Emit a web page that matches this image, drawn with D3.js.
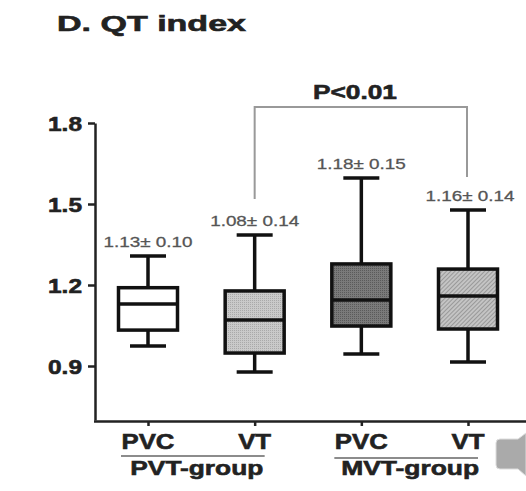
<!DOCTYPE html>
<html>
<head>
<meta charset="utf-8">
<script src="https://cdn.jsdelivr.net/npm/d3@7"></script>
<style>
  body { margin: 0; background: #fff; }
  svg { display: block; font-family: "Liberation Sans", Arial, sans-serif; }
</style>
</head>
<body>
<div id="chart"></div>
<script>
// categories (PVT-group PVC, VT ; MVT-group PVC, VT)
var categories = ["PVT-PVC", "PVT-VT", "MVT-PVC", "MVT-VT"];
var catLabels = ["PVC", "VT", "PVC", "VT"];
var groups = ["PVT-group", "MVT-group"];

// box stats
var whiskerLow  = [0.974, 0.878, 0.944, 0.915];
var q1          = [1.033, 0.948, 1.048, 1.037];
var medians     = [1.130, 1.070, 1.144, 1.159];
var q3          = [1.190, 1.178, 1.278, 1.259];
var whiskerHigh = [1.307, 1.385, 1.596, 1.478];

var meanSd = ["1.13\u00b1 0.10", "1.08\u00b1 0.14", "1.18\u00b1 0.15", "1.16\u00b1 0.14"];
var yTicks = [0.9, 1.2, 1.5, 1.8];

var width = 526, height = 491;

var svg = d3.select("#chart").append("svg")
  .attr("width", width)
  .attr("height", height);

var defs = svg.append("defs");

// dotted texture for the light grey box
var p1 = defs.append("pattern").attr("id", "dotLight")
  .attr("width", 2).attr("height", 2).attr("patternUnits", "userSpaceOnUse");
p1.append("rect").attr("width", 2).attr("height", 2).attr("fill", "#c9c9c9");
p1.append("rect").attr("width", 1).attr("height", 1).attr("fill", "#a9a9a9");

// dotted texture for the dark grey box
var p2 = defs.append("pattern").attr("id", "dotDark")
  .attr("width", 2).attr("height", 2).attr("patternUnits", "userSpaceOnUse");
p2.append("rect").attr("width", 2).attr("height", 2).attr("fill", "#7a7a7a");
p2.append("rect").attr("width", 1).attr("height", 1).attr("fill", "#5a5a5a");

// diagonal hatch for the last box
var p3 = defs.append("pattern").attr("id", "hatch")
  .attr("width", 3).attr("height", 3).attr("patternUnits", "userSpaceOnUse")
  .attr("patternTransform", "rotate(45)");
p3.append("rect").attr("width", 3).attr("height", 3).attr("fill", "#c4c4c4");
p3.append("rect").attr("width", 1).attr("height", 3).attr("fill", "#999");

var fills = ["#fff", "url(#dotLight)", "url(#dotDark)", "url(#hatch)"];

var y = d3.scaleLinear().domain([0.7, 1.8]).range([420, 123]);
var x = d3.scalePoint().domain(categories).range([148, 468]);

var boxW = 59, capW = 36;

// heavier bold text like the scanned figure
function heavy(sel) {
  sel.attr("font-weight", "bold").attr("fill", "#222")
    .attr("stroke", "#222").attr("stroke-width", 0.6);
}

// title
svg.append("text")
  .attr("x", 57).attr("y", 31)
  .attr("font-size", 22)
  .attr("textLength", 189).attr("lengthAdjust", "spacingAndGlyphs")
  .call(heavy)
  .text("D. QT index");

// y axis
var yAxis = d3.axisLeft(y)
  .tickValues(yTicks)
  .tickFormat(d3.format(".1f"))
  .tickSize(7)
  .tickSizeOuter(0);

var gy = svg.append("g")
  .attr("transform", "translate(95,0)")
  .call(yAxis);
gy.select(".domain").attr("stroke", "#222").attr("stroke-width", 2.5);
gy.selectAll(".tick line").attr("stroke", "#222").attr("stroke-width", 2.5);
gy.selectAll(".tick text")
  .attr("x", -13).attr("dy", "0.36em")
  .attr("font-size", 21)
  .attr("textLength", 34).attr("lengthAdjust", "spacingAndGlyphs")
  .attr("font-family", "Liberation Sans, Arial, sans-serif")
  .call(heavy);

// x axis
var xAxis = d3.axisBottom(x).tickSize(5).tickSizeOuter(0).tickFormat("");
var gx = svg.append("g")
  .attr("transform", "translate(0,421)")
  .call(xAxis);
gx.select(".domain").attr("d", "M94,0.5H526").attr("stroke", "#222").attr("stroke-width", 2.5);
gx.selectAll(".tick line").attr("stroke", "#222").attr("stroke-width", 2.5);

// category labels
svg.selectAll(".catLabel")
  .data(categories)
  .enter().append("text")
  .attr("class", "catLabel")
  .attr("x", d => x(d))
  .attr("y", 449)
  .attr("text-anchor", "middle")
  .attr("font-size", 22)
  .attr("textLength", (d, i) => catLabels[i] == "VT" ? 33 : 53)
  .attr("lengthAdjust", "spacingAndGlyphs")
  .call(heavy)
  .text((d, i) => catLabels[i]);

// group underline + labels
var groupSpan = [[categories[0], categories[1]], [categories[2], categories[3]]];
groupSpan.forEach(function(g, i) {
  var x0 = x(g[0]) - 27, x1 = x(g[1]) + 10;
  svg.append("line")
    .attr("x1", x0).attr("x2", x1)
    .attr("y1", 456 + i * 2).attr("y2", 456 + i * 2)
    .attr("stroke", "#666").attr("stroke-width", 1.5);
  svg.append("text")
    .attr("x", (x0 + x1) / 2 + 4)
    .attr("y", 475)
    .attr("text-anchor", "middle")
    .attr("font-size", 21)
    .attr("textLength", i == 0 ? 133 : 138)
    .attr("lengthAdjust", "spacingAndGlyphs")
    .call(heavy)
    .text(groups[i]);
});

// boxes
var boxes = svg.selectAll(".box")
  .data(categories)
  .enter().append("g")
  .attr("class", "box");

// whiskers
boxes.append("line")
  .attr("x1", d => x(d)).attr("x2", d => x(d))
  .attr("y1", (d, i) => y(whiskerHigh[i]))
  .attr("y2", (d, i) => y(whiskerLow[i]))
  .attr("stroke", "#111").attr("stroke-width", 3.5);

boxes.append("line")
  .attr("x1", d => x(d) - capW / 2).attr("x2", d => x(d) + capW / 2)
  .attr("y1", (d, i) => y(whiskerHigh[i]))
  .attr("y2", (d, i) => y(whiskerHigh[i]))
  .attr("stroke", "#111").attr("stroke-width", 3.5);

boxes.append("line")
  .attr("x1", d => x(d) - capW / 2).attr("x2", d => x(d) + capW / 2)
  .attr("y1", (d, i) => y(whiskerLow[i]))
  .attr("y2", (d, i) => y(whiskerLow[i]))
  .attr("stroke", "#111").attr("stroke-width", 3.5);

boxes.append("rect")
  .attr("x", d => x(d) - boxW / 2)
  .attr("width", boxW)
  .attr("y", (d, i) => y(q3[i]))
  .attr("height", (d, i) => y(q1[i]) - y(q3[i]))
  .attr("fill", (d, i) => fills[i])
  .attr("stroke", "#111").attr("stroke-width", 3.5);

boxes.append("line")
  .attr("x1", d => x(d) - boxW / 2).attr("x2", d => x(d) + boxW / 2)
  .attr("y1", (d, i) => y(medians[i]))
  .attr("y2", (d, i) => y(medians[i]))
  .attr("stroke", "#111").attr("stroke-width", 3.5);

// mean +- sd labels
boxes.append("text")
  .attr("x", (d, i) => x(d) + (i == 3 ? 2 : 0))
  .attr("y", (d, i) => y(whiskerHigh[i]) - 9)
  .attr("text-anchor", "middle")
  .attr("font-size", 15).attr("fill", "#555")
  .attr("stroke", "#555").attr("stroke-width", 0.3)
  .attr("textLength", 89).attr("lengthAdjust", "spacingAndGlyphs")
  .text((d, i) => meanSd[i]);

// significance bracket between the two VT groups
var bx0 = x(categories[1]), bx1 = x(categories[3]) - 1;
svg.append("path")
  .attr("d", "M" + bx0 + ",199V107H" + bx1 + "V177")
  .attr("fill", "none")
  .attr("stroke", "#999").attr("stroke-width", 2);

svg.append("text")
  .attr("x", 355).attr("y", 99)
  .attr("text-anchor", "middle")
  .attr("font-size", 21)
  .attr("textLength", 84).attr("lengthAdjust", "spacingAndGlyphs")
  .call(heavy)
  .text("P<0.01");

// grey speaker icon overlay in the corner
svg.append("path")
  .attr("d", "M500,439H518L526,433V476L518,469H500Q496,469 496,465V443Q496,439 500,439Z")
  .attr("fill", "#aaa")
  .attr("stroke", "#ddd").attr("stroke-width", 1);
</script>
</body>
</html>
